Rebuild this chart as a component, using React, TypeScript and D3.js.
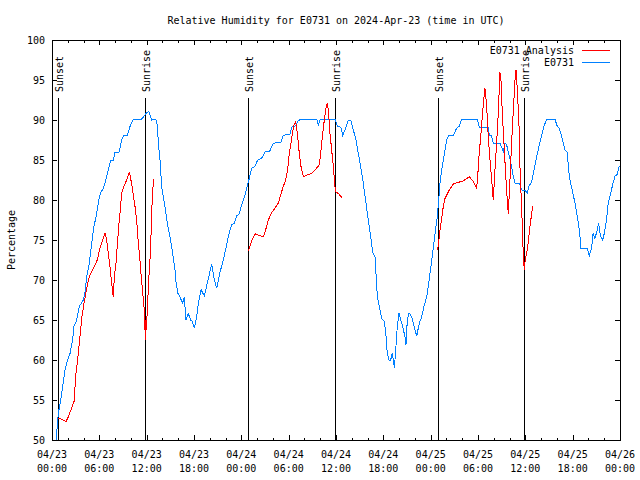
import React from "react";
import * as d3 from "d3";

// ---- data (hours since 2024-04-23 00:00 UTC) ----
const title = "Relative Humidity for E0731 on 2024-Apr-23 (time in UTC)";
const yLabel = "Percentage";
const seriesNames = ["E0731 Analysis", "E0731"];

const obsHours = [0.51,0.8,1.23,1.65,1.86,2.28,2.62,2.79,3.13,3.46,3.97,4.18,4.4,4.73,5.03,5.32,5.66,6.0,6.3,6.4,6.72,7.14,7.44,7.77,7.99,8.5,8.83,9.13,9.55,9.89,10.31,10.8,11.35,11.92,12.25,12.42,12.63,13.14,13.35,13.48,13.69,13.9,14.11,14.32,14.62,14.96,15.3,15.59,15.72,15.93,16.2,16.55,16.77,16.98,17.28,17.58,17.8,18.04,18.34,18.55,18.89,19.31,19.73,20.24,20.58,20.88,21.3,21.72,22.14,22.44,22.78,23.1,23.41,23.7,24.04,24.46,24.8,25.01,25.31,25.73,26.07,26.57,27.0,27.6,28.05,29.0,29.32,30.17,30.38,30.8,31.22,31.56,33.55,33.76,33.97,35.87,36.21,36.6,36.85,37.14,37.56,37.86,38.2,38.53,38.83,39.13,39.46,39.8,40.1,40.4,40.65,40.94,41.07,41.24,41.49,41.79,42.12,42.3,42.5,42.72,42.93,43.14,43.27,43.4,43.57,43.77,43.98,44.2,44.45,44.74,44.87,45.04,45.25,45.6,45.89,46.23,46.56,46.86,47.15,47.5,47.7,47.91,48.25,48.55,48.84,49.02,49.18,49.4,49.6,49.82,50.03,50.32,50.9,51.3,51.6,51.93,53.9,54.17,55.3,55.43,55.7,55.94,56.78,57.0,57.2,57.42,57.63,57.84,58.05,58.26,58.48,58.69,59.3,59.54,59.96,60.24,60.45,60.8,61.1,61.39,61.73,62.07,62.36,62.7,63.75,64.05,64.3,64.73,65.03,65.3,65.58,65.88,66.3,66.6,66.85,67.05,67.86,68.1,68.4,68.6,68.8,69.0,69.3,69.5,69.8,70.0,70.3,70.5,70.8,71.07,71.36,71.6,71.9];
const obsValues = [50.0,53.3,55.8,58.75,59.6,60.8,62.5,64.2,65,66.7,67.5,68.5,70.4,72.1,74.6,76.7,78.3,80.4,81.2,81.2,82.1,83.75,85,85,86,86,87.5,88.1,88.1,89.2,90.1,90,90.1,90.8,91.1,90.6,90,90.1,89.4,87.1,85,81.7,80.4,79.2,77.1,75.4,73.3,71.25,69.8,68.4,67.9,67.1,67.9,65,65.8,65,64.8,64.0,65.4,67.1,68.8,68,69.8,72,70,69,71,72.5,74.4,75.8,76.9,77.1,78,78.2,79.4,80.6,81.9,82.7,84,84.2,85,85.2,86,86.1,87.1,87.2,88.1,88.2,89.1,89.2,89.9,90.1,90.1,89.4,90,90.1,89.2,89.1,88.1,88.75,90,90,88.75,87.5,85.8,84.2,82.1,79.6,77.5,75.4,73.5,72.9,70.8,67.9,66.7,65.2,64.8,63.5,60.8,60,60,60.9,60,59,61.25,64.2,65.9,65,64.2,62.9,61.9,65,65.9,65.4,64.2,63,64.6,65.4,66.7,67.9,69.2,70.8,73.3,75.8,77.9,80,82.1,83.75,85,86.25,87.5,88.1,88.1,89,89.2,90.1,90.1,89.1,89.1,88.1,88,87.1,87.1,86.6,86,87.1,86.9,86,85.2,84.2,82.9,82.1,82,81.25,81.2,80.9,81.7,82.3,83.75,85.2,86.7,88.1,89.2,90.1,90.1,89.2,89,87.5,86.2,86,82.9,81.5,79.6,77.9,76.25,74,74,73,74,75.9,75.2,75.8,77.1,75.6,75,75.8,77.5,79.6,80.8,81.9,83,83.1,84.2];

const anaHours1 = [0.8,1.2,1.77,2.07,2.49,2.79,2.92,3.04,3.34,3.46,3.63,3.76,4.06,4.4,4.73,5.03,5.45,5.74,6.08,6.42,6.72,6.93,7.14,7.35,7.48,7.56,7.69,7.77,7.9,8.11,8.33,8.49,8.62,8.83,9.04,9.38,9.68,9.8,9.97,10.22,10.52,10.73,10.94,11.15,11.28,11.49,11.66,11.79,11.87,11.9,11.96,12.08,12.2,12.33,12.5,12.63,12.76,12.84];
const anaValues1 = [52.7,52.6,52.3,52.9,54,54.8,56.7,58.3,60.8,62.1,63.75,65.2,67.1,69,70.4,71,71.9,72.5,74,75,75.9,75,73.3,71.7,70.4,69.6,68.5,67.9,70.4,72.1,75,77.1,78.3,80.8,81.5,82.3,83.1,83.5,82.7,81.25,79.2,77.5,74.6,72.5,70.8,68.5,66.7,63.75,62.5,65,63.75,66.25,68.75,71.25,73.75,78.75,80.4,82.6];
const anaHours2 = [24.88,25.22,25.52,25.82,26.12,26.79,27.08,27.42,27.84,28.27,28.69,29.03,29.32,29.62,29.87,30.08,30.38,30.67,30.89,31.1,31.35,31.56,31.86,32.28,32.7,33.13,33.55,33.89,34.1,34.31,34.52,34.73,34.9,35.03,35.24,35.45,35.66,35.87,36.0,36.38,36.8];
const anaValues2 = [73.6,74.6,75.4,75.8,75.6,75.4,76.25,77.5,78.4,79,79.6,80.8,81.7,82.5,83.75,85.8,87.7,89.4,89.8,88.3,85.8,84.2,82.9,83.1,83.25,83.5,84,84.4,86.25,88.3,90,91.5,92.1,91.25,88.3,86.25,84.2,81.7,81,80.75,80.2];
const anaHours3 = [48.88,49.05,49.18,49.4,49.6,49.82,50.03,50.36,50.87,51.5,52.14,52.9,53.4,53.83,53.96,54.12,54.34,54.54,54.76,54.88,55.1,55.3,55.52,55.73,55.94,56.15,56.36,56.57,56.78,56.91,57.08,57.29,57.5,57.71,57.84,58.05,58.26,58.48,58.69,58.82,58.99,59.2,59.33,59.54,59.66,59.75,59.87,60.0,60.16,60.38,60.59,60.8,60.93];
const anaValues3 = [73.75,75,76.25,77.7,79.2,80.2,80.6,81.25,82,82.2,82.4,82.9,82.3,81.5,82.9,85.4,87.9,90.4,92.9,94,91.7,87.9,85,82.5,80,83.75,87.1,90.8,96,95,90.8,87.1,83.3,80,78.3,82.5,87.1,91.25,95,96.25,93.75,89.2,83.75,78.75,75.8,72.7,71.25,72.7,73.3,74.8,76.7,78.3,79.2];

const sunHours = [0.8, 11.83, 24.88, 35.9, 48.97, 59.87];
const sunLabels = ["Sunset", "Sunrise", "Sunset", "Sunrise", "Sunset", "Sunrise"];
const sunLineTop = 92.75;

const yTicks = [50, 55, 60, 65, 70, 75, 80, 85, 90, 95, 100];
const xTickHours = [0, 6, 12, 18, 24, 30, 36, 42, 48, 54, 60, 66, 72];
const xTickDates = ["04/23","04/23","04/23","04/23","04/24","04/24","04/24","04/24","04/25","04/25","04/25","04/25","04/26"];
const xTickTimes = ["00:00","06:00","12:00","18:00","00:00","06:00","12:00","18:00","00:00","06:00","12:00","18:00","00:00"];

// ---- layout ----
const W = 640, H = 480;
const L = 52, R = 620, T = 40, B = 440;
const FONT = "'DejaVu Sans Mono', monospace";
const RED = "#ff0000";
const BLUE = "#0080ff";

export default function App() {
  const x = d3.scaleLinear().domain([0, 72]).range([L, R]);
  const y = d3.scaleLinear().domain([50, 100]).range([B, T]);
  const mk = (hs: number[], vs: number[]) =>
    d3.line<number>()
      .x((_, i) => x(hs[i]))
      .y((_, i) => y(vs[i]))(hs) || "";
  const minor = d3.range(0, 73, 2).filter((h) => h % 6 !== 0);
  const px = (v: number) => Math.round(v) + 0.5;

  return (
    <svg width={W} height={H} style={{ position: "absolute", left: 0, top: 0, background: "#fff" }}
      fontFamily={FONT} fontSize={10}>
      <rect x={0} y={0} width={W} height={H} fill="#fff" />
      <text x={(L + R) / 2} y={20} textAnchor="middle" dominantBaseline="central">{title}</text>
      <text transform={`translate(11,${(T + B) / 2}) rotate(-90)`} textAnchor="middle" dominantBaseline="central">{yLabel}</text>

      {/* ticks */}
      <g shapeRendering="crispEdges" stroke="#000">
        {yTicks.map((t) => (
          <g key={t}>
            <line x1={L} x2={L + 5} y1={px(y(t))} y2={px(y(t))} />
            <line x1={R - 5} x2={R} y1={px(y(t))} y2={px(y(t))} />
          </g>
        ))}
        {xTickHours.map((h) => (
          <g key={h}>
            <line x1={px(x(h))} x2={px(x(h))} y1={B} y2={B - 5} />
            <line x1={px(x(h))} x2={px(x(h))} y1={T} y2={T + 5} />
          </g>
        ))}
        {minor.map((h) => (
          <g key={h}>
            <line x1={px(x(h))} x2={px(x(h))} y1={B} y2={B - 2.5} />
            <line x1={px(x(h))} x2={px(x(h))} y1={T} y2={T + 2.5} />
          </g>
        ))}
      </g>
      {yTicks.map((t) => (
        <text key={t} x={L - 7} y={y(t)} textAnchor="end" dominantBaseline="central">{t}</text>
      ))}
      {xTickHours.map((h, i) => (
        <g key={h}>
          <text x={x(h)} y={454} textAnchor="middle" dominantBaseline="central">{xTickDates[i]}</text>
          <text x={x(h)} y={468} textAnchor="middle" dominantBaseline="central">{xTickTimes[i]}</text>
        </g>
      ))}

      {/* sun lines */}
      {sunHours.map((h, i) => (
        <g key={i}>
          <line x1={px(x(h))} x2={px(x(h))} y1={B} y2={y(sunLineTop)}
            stroke="#000" strokeWidth={1} shapeRendering="crispEdges" />
          <text transform={`translate(${x(h) + 1.5},${y(sunLineTop) - 6}) rotate(-90)`}
            textAnchor="start" dominantBaseline="central">{sunLabels[i]}</text>
        </g>
      ))}

      {/* data */}
      <g fill="none" strokeWidth={1} shapeRendering="crispEdges">
        <path d={mk(obsHours, obsValues)} stroke={BLUE} />
        <path d={mk(anaHours1, anaValues1)} stroke={RED} />
        <path d={mk(anaHours2, anaValues2)} stroke={RED} />
        <path d={mk(anaHours3, anaValues3)} stroke={RED} />
      </g>

      {/* legend */}
      <text x={574} y={50} textAnchor="end" dominantBaseline="central">{seriesNames[0]}</text>
      <line x1={582} x2={610} y1={50.5} y2={50.5} stroke={RED} shapeRendering="crispEdges" />
      <text x={574} y={62.5} textAnchor="end" dominantBaseline="central">{seriesNames[1]}</text>
      <line x1={582} x2={610} y1={62.5} y2={62.5} stroke={BLUE} shapeRendering="crispEdges" />

      {/* frame */}
      <rect x={L + 0.5} y={T + 0.5} width={R - L} height={B - T} fill="none" stroke="#000" shapeRendering="crispEdges" />
    </svg>
  );
}
